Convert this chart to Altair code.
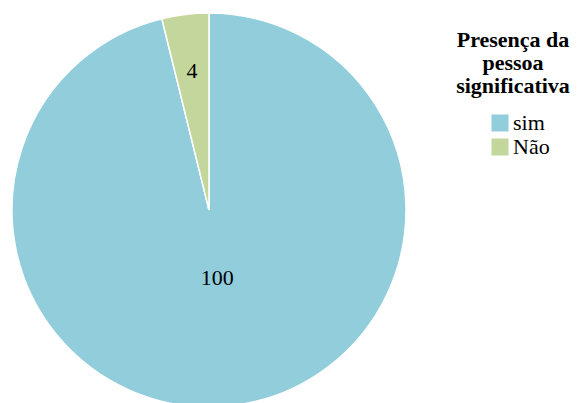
import altair as alt
import pandas as pd

categories = ["sim", "Não"]
values = [100, 4]
colors = ["#92CDDC", "#C3D69B"]
legend_title = ["Presença da", "pessoa", "significativa"]

df = pd.DataFrame({"cat": categories, "value": values, "idx": list(range(len(categories)))})

cx, cy = 201, 202

arcs = alt.Chart(df).mark_arc(outerRadius=197, stroke="white", strokeWidth=1.5).encode(
    theta=alt.Theta("value:Q", stack=True),
    order=alt.Order("idx:Q"),
    x=alt.value(cx),
    y=alt.value(cy),
    color=alt.Color(
        "cat:N",
        scale=alt.Scale(domain=categories, range=colors),
        sort=categories,
        legend=alt.Legend(
            title=None, orient="none", legendX=481, legendY=104,
            symbolType="square", symbolSize=289, symbolStrokeWidth=0, symbolOpacity=1,
            labelFont="Liberation Serif", labelFontSize=22, labelColor="black",
            labelOffset=2, rowPadding=2, padding=0,
        ),
    ),
)

labels = alt.Chart(df).transform_joinaggregate(
    total="sum(value)"
).transform_window(
    cum="sum(value)", sort=[alt.SortField("idx", order="ascending")],
    frame=[None, 0]
).transform_calculate(
    mid="(datum.cum - datum.value / 2) / datum.total * 2 * PI",
    lr="datum.value > 50 ? 69 : 140",
).mark_text(
    font="Liberation Serif", fontSize=22, color="black"
).encode(
    text="value:Q",
    x=alt.value(cx),
    y=alt.value(cy),
    theta=alt.Theta("mid:Q", scale=None),
    radius=alt.Radius("lr:Q", scale=None),
)

title = alt.Chart(pd.DataFrame({"t": ["\n".join(legend_title)]})).mark_text(
    lineBreak="\n", lineHeight=23, font="Liberation Serif", fontSize=22,
    fontWeight="bold", align="center", baseline="alphabetic", color="black"
).encode(text="t:N", x=alt.value(505), y=alt.value(39))

chart = alt.layer(arcs, labels, title).properties(
    width=565, height=404, padding=0,
    autosize=alt.AutoSizeParams(type="none"),
).configure_view(stroke=None)

chart.save("out.html", embed_options={"renderer": "svg", "actions": False})
